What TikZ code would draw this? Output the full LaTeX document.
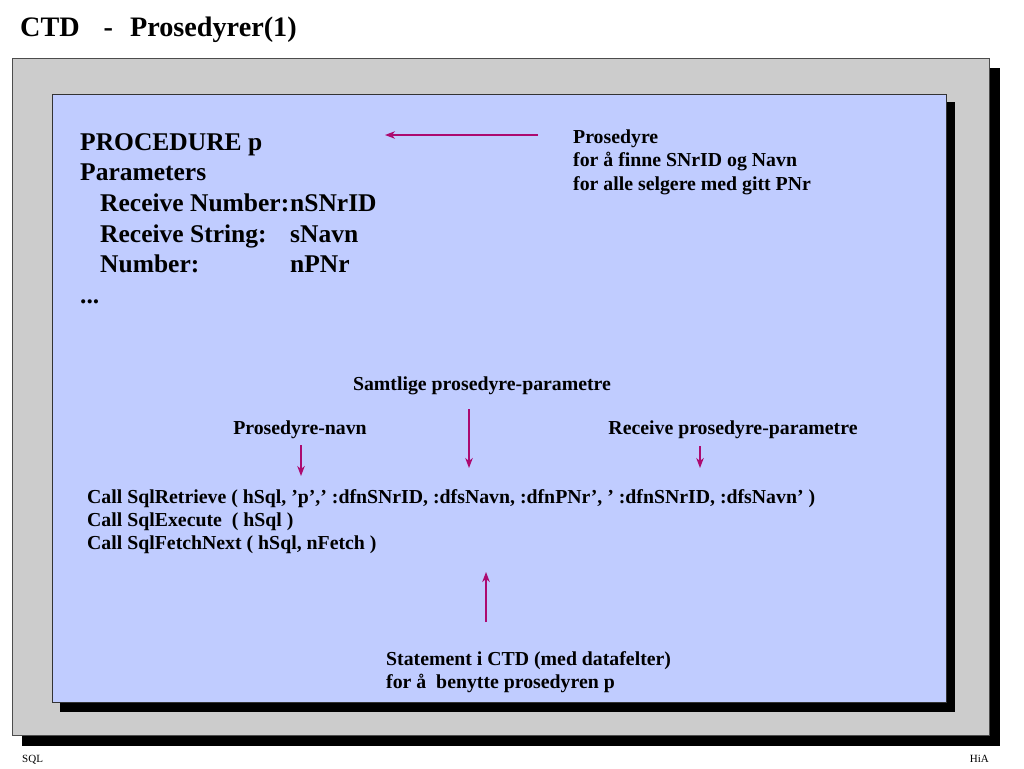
\documentclass[tikz,border=0pt]{standalone}
\usepackage{fontspec}
\setmainfont{Liberation Serif}
\usetikzlibrary{arrows, arrows.meta, positioning}

\definecolor{slidegray}{RGB}{204,204,204}
\definecolor{slideblue}{RGB}{192,204,255}
\definecolor{pointred}{RGB}{172,10,112}

\begin{document}
\begin{tikzpicture}[x=1pt, y=-1pt,
  big/.style={anchor=base west, inner sep=0pt, font=\bfseries\fontsize{25.5}{25.5}\selectfont},
  txt/.style={anchor=base west, inner sep=0pt, font=\bfseries\fontsize{19.8}{19.8}\selectfont},
  foot/.style={inner sep=0pt, font=\fontsize{11}{11}\selectfont},
  pointer/.style={-{Stealth[length=10pt, width=7.5pt, inset=3pt]}, line width=1.3pt, pointred}]
\useasboundingbox (0,0) rectangle (1024,768);

% frames
\fill [black] (22,68) rectangle (1000,746);
\draw [fill=slidegray, draw=black!70] (12,58) rectangle (989,735);
\fill [black] (60,102) rectangle (955,712);
\draw [fill=slideblue, draw=black!80] (52,94) rectangle (946,702);

% nodes
\node [anchor=base west, inner sep=0pt, font=\bfseries\fontsize{28.2}{28.2}\selectfont] (title) at (20,37) {CTD\hspace{24pt}-\hspace{17pt}Prosedyrer(1)};

\node [big] (proc) at (80,150) {PROCEDURE p};
\node [big] (param) at (80,180.5) {Parameters};
\node [big] (recnum) at (100,211) {Receive Number:};
\node [big] (recstr) at (100,242) {Receive String:};
\node [big] (num) at (100,272.5) {Number:};
\node [big] (dots) at (80,303) {...};
\node [big] (vnr) at (290,211) {nSNrID};
\node [big] (vnavn) at (290,242) {sNavn};
\node [big] (vpnr) at (290,272.5) {nPNr};

\node [txt] (pros1) at (573,143) {Prosedyre};
\node [txt] (pros2) at (573,166.5) {for å finne SNrID og Navn};
\node [txt] (pros3) at (573,190) {for alle selgere med gitt PNr};

\node [txt, anchor=base] (alle) at (482,390) {Samtlige prosedyre-parametre};
\node [txt, anchor=base] (navn) at (300,434) {Prosedyre-navn};
\node [txt, anchor=base] (receive) at (733,434) {Receive prosedyre-parametre};

\node [txt] (call1) at (87,503) {Call SqlRetrieve ( hSql, ’p’,’ :dfnSNrID, :dfsNavn, :dfnPNr’, ’ :dfnSNrID, :dfsNavn’ )};
\node [txt] (call2) at (87,526) {Call SqlExecute\ \ ( hSql )};
\node [txt] (call3) at (87,549) {Call SqlFetchNext ( hSql, nFetch )};

\node [txt] (stmt1) at (386,665) {Statement i CTD (med datafelter)};
\node [txt] (stmt2) at (386,688) {for å\ \ benytte prosedyren p};

\node [foot, anchor=base west] (sql) at (22,762) {SQL};
\node [foot, anchor=base east] (hia) at (989,762) {HiA};

% arrow ends
\coordinate (a1) at (538,135);
\coordinate (b1) at (385,135);
\coordinate (a2) at (301,445);
\coordinate (b2) at (301,476);
\coordinate (a3) at (469,409);
\coordinate (b3) at (469,468);
\coordinate (a4) at (700,446);
\coordinate (b4) at (700,468);
\coordinate (a5) at (486,622);
\coordinate (b5) at (486,572);

% arrows
\draw [pointer] (a1) -- (b1);
\draw [pointer] (a2) -- (b2);
\draw [pointer] (a3) -- (b3);
\draw [pointer] (a4) -- (b4);
\draw [pointer] (a5) -- (b5);
\end{tikzpicture}
\end{document}
